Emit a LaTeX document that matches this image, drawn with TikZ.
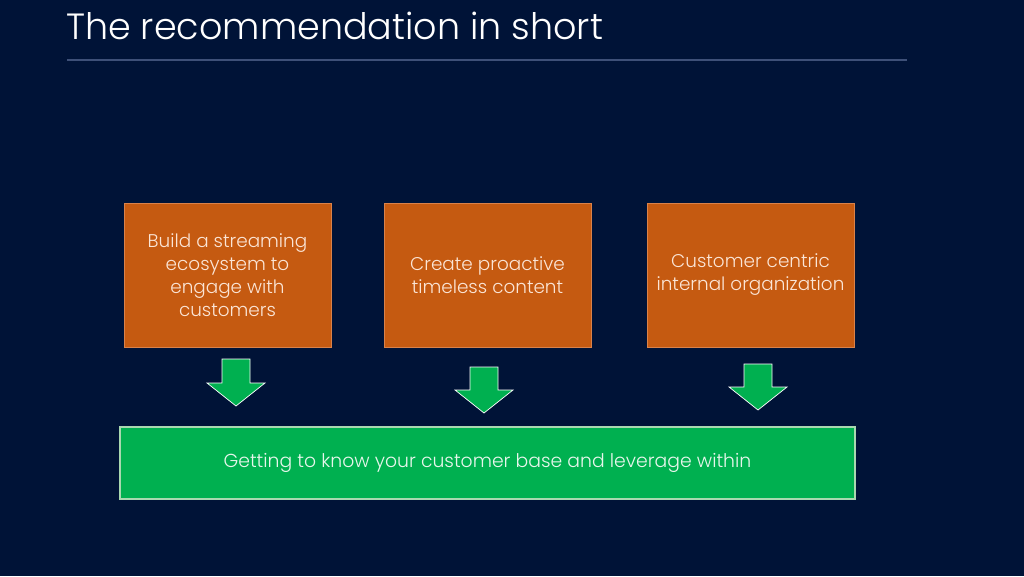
\documentclass[tikz,border=0pt]{standalone}
\usepackage{fontspec}
\setmainfont{Poppins Light}
\usetikzlibrary{positioning}
\definecolor{slidenavy}{HTML}{001337}
\definecolor{slideline}{HTML}{3E5078}
\definecolor{recorange}{HTML}{C55A11}
\definecolor{recedge}{HTML}{D9824A}
\definecolor{reccream}{HTML}{FBE5D6}
\definecolor{recgreen}{HTML}{00B050}
\definecolor{recedgegreen}{HTML}{A9D8B0}
\definecolor{recmint}{HTML}{E8F6EC}

\begin{document}
\begin{tikzpicture}[
        x=1pt,y=-1pt,
        pillar/.style={rectangle,minimum width=207pt,minimum height=144pt,
          line width=0.6pt,draw=recedge,fill=recorange,align=center,
          text=reccream,font=\fontsize{18.4}{23}\selectfont},
        goal/.style={rectangle,minimum width=735pt,minimum height=72pt,
          line width=1.4pt,draw=recedgegreen,fill=recgreen,align=center,
          text=recmint,font=\fontsize{18.8}{23}\selectfont},
        drop/.style={fill=recgreen,draw=white,line width=0.7pt,line join=miter}
      ]
        \fill[slidenavy] (0,0) rectangle (1024,576);
        \useasboundingbox (0,0) rectangle (1024,576);

        \node[anchor=base west,text=white,inner sep=0pt,
          font=\fontsize{36.5}{44}\selectfont] (title) at (66,39) {The recommendation in short};
        \draw[slideline,line width=1.3pt] (67,60) -- (907,60);

        \node[pillar] (stream) at (227.5,275) {Build a streaming\\ecosystem to\\engage with\\customers};
        \node[pillar] (content) at (487.5,275) {Create proactive\\timeless content};
        \node[pillar] (centric) at (750.5,275) {Customer centric\\internal organization};

        \node[goal] (base) at (487.5,463) {Getting to know your customer base and leverage within};

        % block arrows down to the shared goal
        \draw[drop] (222,359) -- ++(28,0) -- ++(0,24) -- ++(15,0) -- ++(-29,23) -- ++(-29,-23) -- ++(15,0) -- cycle;
        \draw[drop] (470,367) -- ++(28,0) -- ++(0,23) -- ++(15,0) -- ++(-29,23) -- ++(-29,-23) -- ++(15,0) -- cycle;
        \draw[drop] (744,364) -- ++(28,0) -- ++(0,23) -- ++(15,0) -- ++(-29,23) -- ++(-29,-23) -- ++(15,0) -- cycle;
      \end{tikzpicture}
\end{document}
